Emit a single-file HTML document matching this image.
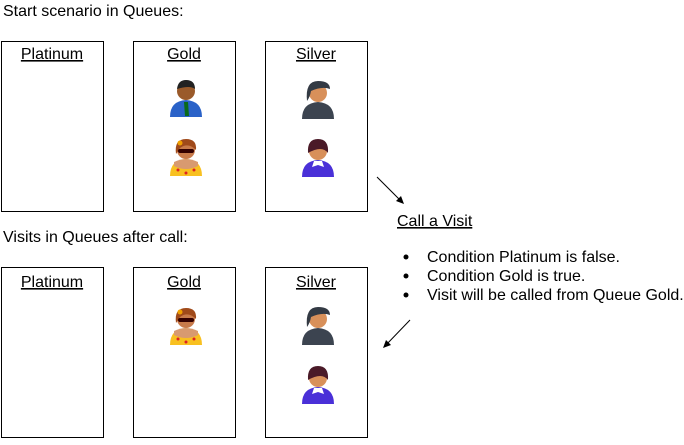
<!DOCTYPE html>
<html><head><style>
body{margin:0;background:#fff;}
svg text{font-family:"Liberation Sans",Arial,sans-serif;font-size:16px;fill:#000;}
</style></head><body>
<svg width="684" height="440" viewBox="0 0 684 440" xmlns="http://www.w3.org/2000/svg">
<defs>
<g id="man"><path d="M-16,18 Q-16,2 0,1 Q16,2 16,18 Z" fill="#2a62c8"/><path d="M-2,3 L2,3 L3,17 L-1,17 Z" fill="#0a6a1a"/><circle cx="0" cy="-8" r="9" fill="#9a5a2a"/><path d="M-9,-10 Q-8,-19 0,-19 Q9,-19 9,-10 Q4,-14 -9,-10Z" fill="#222"/></g>
<g id="girl"><path d="M-16,18 Q-16,2 0,1 Q16,2 16,18 Z" fill="#f8c020"/><path d="M-12,8 Q0,14 12,8 L12,4 Q0,-2 -12,4Z" fill="#d89a70"/><circle cx="0" cy="-8" r="9" fill="#c87a4a"/><path d="M-10,-4 Q-12,-19 0,-19 Q11,-19 10,-8 Q2,-16 -6,-10 Z" fill="#a04a1a"/><rect x="-8" y="-9" width="16" height="4" rx="2" fill="#300"/><circle cx="-6" cy="-15" r="2.5" fill="#f0a000"/><circle cx="-8" cy="12" r="1.5" fill="#d22"/><circle cx="0" cy="15" r="1.5" fill="#d22"/><circle cx="8" cy="12" r="1.5" fill="#d22"/></g>
<g id="dark"><path d="M-16,18 Q-16,2 0,1 Q16,2 16,18 Z" fill="#3c4450"/><circle cx="0" cy="-8" r="9" fill="#d8905a"/><path d="M-11,0 Q-13,-20 0,-20 Q12,-20 12,-12 Q4,-15 -7,-10 Q-8,-4 -11,0Z" fill="#333a44"/></g>
<g id="purple"><path d="M-16,18 Q-16,2 0,1 Q16,2 16,18 Z" fill="#4a30d8"/><path d="M-4,2 L4,2 L6,8 L0,6 L-6,8Z" fill="#fff"/><circle cx="0" cy="-8" r="9" fill="#d8905a"/><path d="M-10,-6 Q-11,-20 0,-20 Q11,-20 10,-6 Q4,-14 -10,-6Z" fill="#4a1a28"/></g>
</defs>
<text x="3" y="16">Start scenario in Queues:</text>
<text x="3" y="242">Visits in Queues after call:</text>
<g fill="none" stroke="#000" stroke-width="1">
<rect x="1.5" y="41.5" width="102" height="170"/>
<rect x="133.5" y="41.5" width="102" height="170"/>
<rect x="265.5" y="41.5" width="102" height="170"/>
<rect x="1.5" y="267.5" width="102" height="170"/>
<rect x="133.5" y="267.5" width="102" height="170"/>
<rect x="265.5" y="267.5" width="102" height="170"/>
<line x1="377" y1="177" x2="402" y2="202"/>
<line x1="410" y1="320" x2="385" y2="346"/>
</g>
<path d="M404,204 L396,201 L401,196Z" fill="#000"/>
<path d="M383,348 L386,340 L391,345Z" fill="#000"/>
<g text-anchor="middle">
<text x="52" y="59" text-decoration="underline">Platinum</text>
<text x="184" y="59" text-decoration="underline">Gold</text>
<text x="316" y="59" text-decoration="underline">Silver</text>
<text x="52" y="287" text-decoration="underline">Platinum</text>
<text x="184" y="287" text-decoration="underline">Gold</text>
<text x="316" y="287" text-decoration="underline">Silver</text>
</g>
<use href="#man" x="186" y="99"/>
<use href="#girl" x="186" y="158"/>
<use href="#dark" x="318" y="101"/>
<use href="#purple" x="318" y="159"/>
<use href="#girl" x="186" y="327"/>
<use href="#dark" x="318" y="327"/>
<use href="#purple" x="318" y="386"/>
<text x="397" y="226" text-decoration="underline">Call a Visit</text>
<circle cx="406" cy="257" r="2.5" fill="#000"/>
<circle cx="406" cy="276" r="2.5" fill="#000"/>
<circle cx="406" cy="295" r="2.5" fill="#000"/>
<text x="427" y="262">Condition Platinum is false.</text>
<text x="427" y="281">Condition Gold is true.</text>
<text x="427" y="300">Visit will be called from Queue Gold.</text>
</svg>
</body></html>
